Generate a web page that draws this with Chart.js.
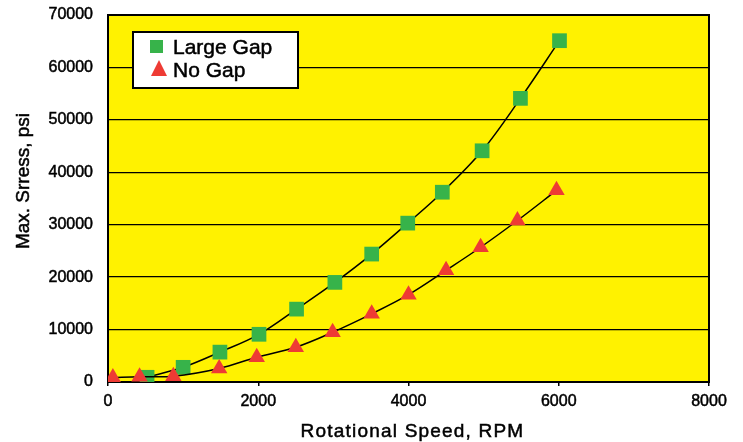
<!DOCTYPE html>
<html><head><meta charset="utf-8">
<script src="https://cdn.jsdelivr.net/npm/chart.js@4/dist/chart.umd.min.js"></script>
<style>html,body{margin:0;padding:0;background:#fff;} canvas{display:block;}</style>
</head><body>
<canvas id="c" width="743" height="442"></canvas>
<script>
// ---- data ----
const seriesNames = ['Large Gap', 'No Gap'];
const rpmLargeGap    = [520, 1000, 1490, 2010, 2510, 3020, 3510, 3990, 4450, 4980, 5490, 6010];
const stressLargeGap = [900, 2800, 5700, 9100, 13900, 19000, 24400, 30300, 36200, 44100, 54100, 65100];
const rpmNoGap       = [65, 420, 870, 1480, 1980, 2500, 2990, 3510, 4000, 4500, 4960, 5450, 5970];
const stressNoGap    = [840, 1000, 1090, 2580, 4730, 6640, 9490, 13000, 16650, 21300, 25700, 30800, 36550];
const xTickValues = [0, 2000, 4000, 6000, 8000];
const yTickValues = [0, 10000, 20000, 30000, 40000, 50000, 60000, 70000];
const xTitle = 'Rotational Speed, RPM';
const yTitle = 'Max. Srress, psi';

const FONT = '"Liberation Sans", Arial, Helvetica, sans-serif';
const GREEN = '#37b34a';
const RED = '#ee3b34';
const YELLOW = '#fff200';
const STROKE = 0.5;

const toPoints = (xs, ys) => xs.map((x, i) => ({x: x, y: ys[i]}));

function heavyText(ctx, text, x, y) {
  ctx.fillText(text, x, y);
  ctx.lineWidth = STROKE;
  ctx.strokeStyle = ctx.fillStyle;
  ctx.strokeText(text, x, y);
}

const plotBg = {
  id: 'plotBg',
  beforeDraw(chart) {
    const {ctx, chartArea: a} = chart;
    ctx.save();
    ctx.fillStyle = YELLOW;
    ctx.fillRect(a.left, a.top, a.right - a.left, a.bottom - a.top);
    ctx.restore();
  },
  beforeDatasetsDraw(chart) {
    const {ctx, chartArea: a} = chart;
    ctx.save();
    ctx.strokeStyle = '#000';
    ctx.lineWidth = 2;
    ctx.strokeRect(a.left, a.top, a.right - a.left, a.bottom - a.top);
    ctx.restore();
  },
  afterDraw(chart) {
    const ctx = chart.ctx;
    const a = chart.chartArea;
    // x-axis title
    ctx.save();
    ctx.fillStyle = '#000';
    ctx.font = '19px ' + FONT;
    ctx.textAlign = 'center';
    ctx.textBaseline = 'alphabetic';
    try { ctx.letterSpacing = '1.2px'; } catch (e) {}
    heavyText(ctx, xTitle, (a.left + a.right) / 2 + 4, 437);
    ctx.restore();
    // y-axis title
    ctx.save();
    ctx.fillStyle = '#000';
    ctx.font = '19px ' + FONT;
    ctx.textAlign = 'center';
    ctx.textBaseline = 'alphabetic';
    ctx.translate(29, 181);
    ctx.rotate(-Math.PI / 2);
    heavyText(ctx, yTitle, 0, 0);
    ctx.restore();
    // legend box
    ctx.save();
    ctx.fillStyle = '#fff';
    ctx.fillRect(133, 32, 165, 56);
    ctx.strokeStyle = '#000';
    ctx.lineWidth = 2;
    ctx.strokeRect(133, 32, 165, 56);
    const ds = chart.data.datasets;
    ctx.fillStyle = ds[0].pointBackgroundColor;
    ctx.fillRect(150, 40, 13, 13);
    ctx.fillStyle = ds[1].pointBackgroundColor;
    ctx.beginPath();
    ctx.moveTo(159, 60);
    ctx.lineTo(167, 76);
    ctx.lineTo(151, 76);
    ctx.closePath();
    ctx.fill();
    ctx.fillStyle = '#000';
    ctx.font = '21px ' + FONT;
    ctx.textAlign = 'left';
    ctx.textBaseline = 'alphabetic';
    heavyText(ctx, ds[0].label, 173, 54);
    heavyText(ctx, ds[1].label, 173, 76.5);
    ctx.restore();
  }
};

new Chart(document.getElementById('c'), {
  type: 'scatter',
  data: {
    datasets: [
      {
        label: seriesNames[0],
        data: toPoints(rpmLargeGap, stressLargeGap),
        showLine: true,
        borderColor: '#000',
        borderWidth: 1.5,
        tension: 0.35,
        pointStyle: 'rect',
        pointRadius: 10.4,
        pointHoverRadius: 10.4,
        pointBackgroundColor: GREEN,
        pointBorderWidth: 0,
        pointBorderColor: GREEN,
        order: 2
      },
      {
        label: seriesNames[1],
        data: toPoints(rpmNoGap, stressNoGap),
        showLine: true,
        borderColor: '#000',
        borderWidth: 1.5,
        tension: 0.35,
        pointStyle: 'triangle',
        pointRadius: 9.5,
        pointHoverRadius: 9.5,
        pointBackgroundColor: RED,
        pointBorderWidth: 0,
        pointBorderColor: RED,
        order: 1
      }
    ]
  },
  options: {
    responsive: false,
    animation: false,
    devicePixelRatio: 1,
    layout: {autoPadding: false, padding: {top: 15, right: 34, left: 0, bottom: 0}},
    plugins: {legend: {display: false}, tooltip: {enabled: false}},
    scales: {
      x: {
        type: 'linear',
        min: 0, max: 8000,
        afterBuildTicks: s => { s.ticks = xTickValues.map(v => ({value: v})); },
        afterFit: s => { s.height = 60; s.paddingLeft = 0; s.paddingRight = 0; },
        grid: {drawOnChartArea: false, drawTicks: true, tickLength: 4, color: '#000', lineWidth: 1.5},
        border: {display: true, color: '#000', width: 2},
        ticks: {color: '#000', textStrokeColor: '#000', textStrokeWidth: STROKE, font: {family: FONT, size: 16}, padding: 6, maxRotation: 0, callback: v => String(v)},
        title: {display: false, text: xTitle}
      },
      y: {
        type: 'linear',
        min: 0, max: 70000,
        afterBuildTicks: s => { s.ticks = yTickValues.map(v => ({value: v})); },
        afterFit: s => { s.width = 108; s.paddingTop = 0; s.paddingBottom = 0; },
        grid: {drawTicks: false, color: '#000', lineWidth: 1.3},
        border: {display: true, color: '#000', width: 2},
        ticks: {color: '#000', textStrokeColor: '#000', textStrokeWidth: STROKE, font: {family: FONT, size: 16}, padding: 15, callback: v => String(v)},
        title: {display: false, text: yTitle}
      }
    }
  },
  plugins: [plotBg]
});
</script>
</body></html>
